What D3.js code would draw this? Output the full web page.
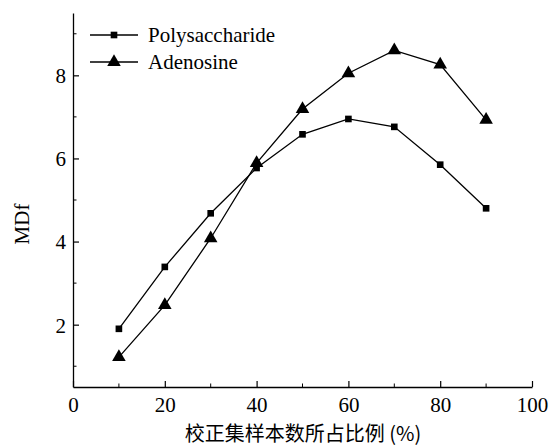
<!DOCTYPE html>
<html><head><meta charset="utf-8">
<script src="https://cdn.jsdelivr.net/npm/d3@7"></script>
<style>
body{margin:0;background:#fff;}
svg{display:block;}
text{font-family:"Liberation Serif","Times New Roman",serif;fill:#000;}
</style></head>
<body><svg id="c" width="550" height="445"></svg>
<script>
const xValues = [10,20,30,40,50,60,70,80,90];
const polysaccharide = [1.90,3.39,4.68,5.77,6.58,6.95,6.76,5.85,4.80];
const adenosine = [1.22,2.47,4.08,5.89,7.19,8.05,8.60,8.26,6.93];
const seriesNames = ["Polysaccharide","Adenosine"];
const xMajorTicks = [0,20,40,60,80,100];
const xMinorTicks = [10,30,50,70,90];
const yMajorTicks = [2,4,6,8];
const yMinorTicks = [1,3,5,7,9];
const xTitle = "校正集样本数所占比例 (%)";
const yTitle = "MDf";

const svg = d3.select("#c");
const x = d3.scaleLinear().domain([0,100]).range([73,532]);
const y = d3.scaleLinear().domain([0.5,9.5]).range([387,13]);

const g = svg.append("g");
// x axis
const xAxis = g.append("g").attr("transform","translate(0,387)")
  .call(d3.axisBottom(x).tickValues(xMajorTicks).tickSizeInner(-6).tickSizeOuter(0).tickPadding(10));
xAxis.append("g").selectAll("line").data(xMinorTicks).join("line")
  .attr("x1",d=>x(d)).attr("x2",d=>x(d)).attr("y1",0).attr("y2",-3.5).attr("stroke","#000");
// y axis
const yAxis = g.append("g").attr("transform","translate(73,0)")
  .call(d3.axisLeft(y).tickValues(yMajorTicks).tickSizeInner(-6).tickSizeOuter(0).tickPadding(7));
yAxis.append("g").selectAll("line").data(yMinorTicks).join("line")
  .attr("y1",d=>y(d)).attr("y2",d=>y(d)).attr("x1",0).attr("x2",3.5).attr("stroke","#000");
[xAxis,yAxis].forEach(a=>{
  a.attr("font-family",null).attr("font-size",null);
  a.selectAll("path.domain").attr("stroke","#000").attr("stroke-width",1.3);
  a.selectAll(".tick line").attr("stroke","#000").attr("stroke-width",1.2);
  a.selectAll("text").style("font-family","'Liberation Serif',serif").style("font-size","21px").attr("fill","#000");
});
yAxis.selectAll("text").attr("dy","0.35em");

// titles
svg.append("text").attr("x",303).attr("y",441).attr("text-anchor","middle")
  .style("font-size","20px").style("font-family","'Noto Sans CJK SC','Liberation Serif',serif")
  .text(xTitle);
svg.append("text").attr("transform","translate(29,224) rotate(-90)").attr("text-anchor","middle")
  .style("font-size","21px").text(yTitle);

// series
const line = d3.line().x((d,i)=>x(xValues[i])).y(d=>y(d));
const data = [polysaccharide, adenosine];
const sym = [d3.symbolSquare, d3.symbolTriangle];
const symSize = [44, 80];
data.forEach((s,k)=>{
  g.append("path").datum(s).attr("d",line).attr("fill","none").attr("stroke","#000").attr("stroke-width",1.3);
  g.append("g").selectAll("path").data(s).join("path")
    .attr("transform",(d,i)=>`translate(${x(xValues[i])},${y(d)})`)
    .attr("d",d3.symbol().type(sym[k]).size(symSize[k])).attr("fill","#000");
});

// legend
const legY = [35,62];
seriesNames.forEach((n,k)=>{
  const lg = svg.append("g").attr("transform",`translate(0,${legY[k]})`);
  lg.append("line").attr("x1",90).attr("x2",138).attr("y1",0).attr("y2",0).attr("stroke","#000").attr("stroke-width",1.3);
  lg.append("path").attr("transform","translate(114,0)").attr("d",d3.symbol().type(sym[k]).size(symSize[k])).attr("fill","#000");
  lg.append("text").attr("x",148).attr("y",0).attr("dy","0.35em").style("font-size","21px").text(n);
});
</script></body></html>
